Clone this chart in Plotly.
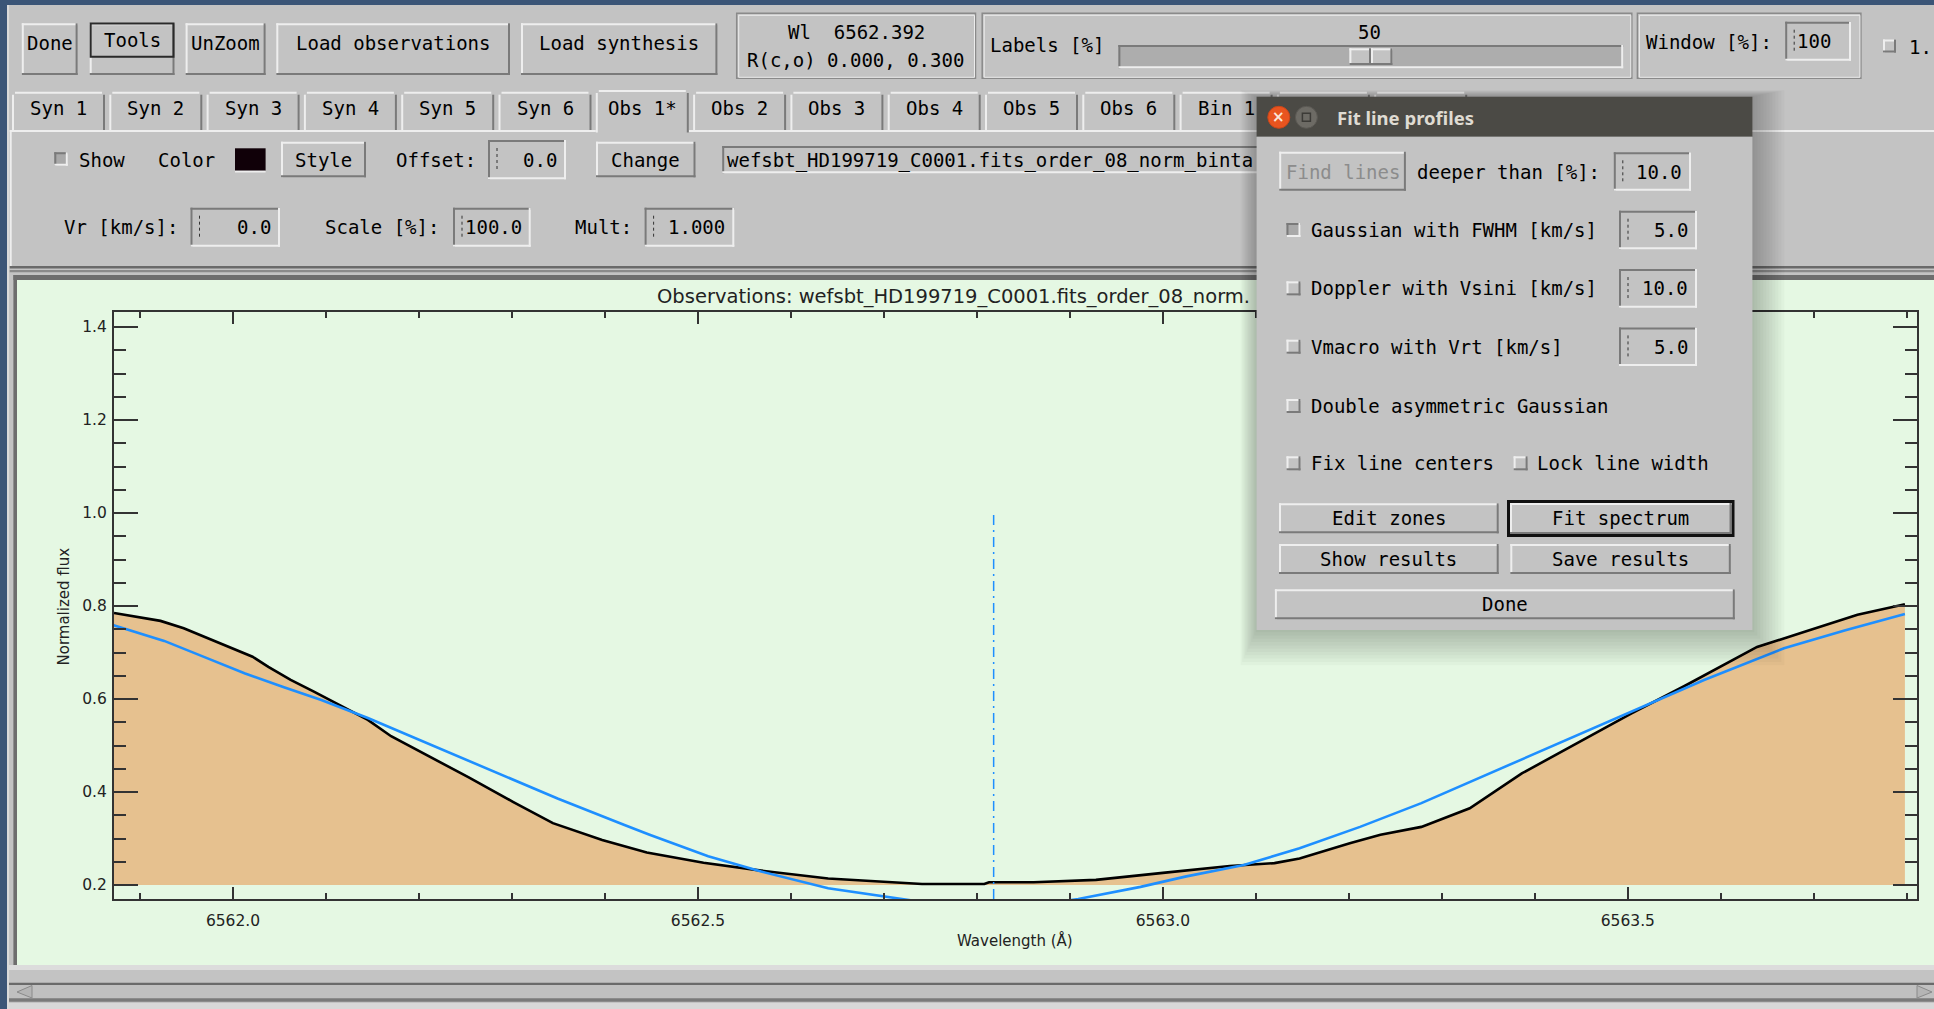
import plotly.graph_objects as go

# ---------------- data ----------------
obs_wavelength = [6561.872, 6561.894, 6561.922, 6561.947, 6561.972, 6561.996, 6562.021, 6562.038,
                  6562.062, 6562.087, 6562.104, 6562.120, 6562.145, 6562.170, 6562.205, 6562.253,
                  6562.301, 6562.344, 6562.397, 6562.445, 6562.506, 6562.568, 6562.640, 6562.708,
                  6562.741, 6562.808, 6562.813, 6562.861, 6562.928, 6563.000, 6563.072, 6563.120,
                  6563.147, 6563.201, 6563.234, 6563.278, 6563.330, 6563.386, 6563.452, 6563.504,
                  6563.561, 6563.639, 6563.691, 6563.747, 6563.798]
obs_flux = [0.785, 0.777, 0.768, 0.752, 0.731, 0.712, 0.691, 0.669,
            0.641, 0.616, 0.598, 0.580, 0.555, 0.520, 0.483, 0.432,
            0.379, 0.333, 0.297, 0.270, 0.248, 0.231, 0.214, 0.207,
            0.202, 0.202, 0.206, 0.206, 0.211, 0.226, 0.241, 0.247,
            0.257, 0.290, 0.308, 0.325, 0.365, 0.440, 0.512, 0.569,
            0.628, 0.712, 0.745, 0.781, 0.804]
fit_wavelength = [6561.871, 6561.926, 6561.972, 6562.013, 6562.054, 6562.095, 6562.145, 6562.205,
                  6562.277, 6562.349, 6562.421, 6562.448, 6562.511, 6562.568, 6562.640, 6562.717,
                  6562.760, 6562.818, 6562.870, 6562.909, 6562.976, 6563.024, 6563.087, 6563.147,
                  6563.212, 6563.278, 6563.343, 6563.408, 6563.495, 6563.582, 6563.668, 6563.734,
                  6563.798]
fit_flux = [0.759, 0.725, 0.688, 0.655, 0.626, 0.598, 0.559, 0.508,
            0.447, 0.386, 0.329, 0.308, 0.262, 0.229, 0.193, 0.170,
            0.158, 0.152, 0.158, 0.170, 0.196, 0.218, 0.243, 0.279,
            0.325, 0.376, 0.433, 0.490, 0.565, 0.641, 0.709, 0.748,
            0.783]
fill_base = 0.2
line_center = 6562.818
line_marker_top = 1.0
x_range = [6561.872, 6563.811]
y_range = [0.1699, 1.4323]

plot_title = "Observations: wefsbt_HD199719_C0001.fits_order_08_norm."
x_title = "Wavelength (Å)"
y_title = "Normalized flux"

toolbar_buttons = ["Done", "Tools", "UnZoom", "Load observations", "Load synthesis"]
info_lines = ["Wl\u00a0\u00a06562.392", "R(c,o) 0.000, 0.300"]
labels_value = "50"
window_value = "100"
tab_labels = ["Syn 1", "Syn 2", "Syn 3", "Syn 4", "Syn 5", "Syn 6",
              "Obs 1*", "Obs 2", "Obs 3", "Obs 4", "Obs 5", "Obs 6", "Bin 1"]
file_entry = "wefsbt_HD199719_C0001.fits_order_08_norm_binta"
offset_value, vr_value, scale_value, mult_value = "0.0", "0.0", "100.0", "1.000"
popup_title = "Fit line profiles"
popup_options = ["Gaussian with FWHM [km/s]", "Doppler with Vsini [km/s]", "Vmacro with Vrt [km/s]"]
popup_option_values = ["5.0", "10.0", "5.0"]
deeper_value = "10.0"

# ---------------- geometry helpers ----------------
W, H = 1934, 1009
ML, MR, MT, MB = 114, 17, 312, 110
PW = W - ML - MR
PH = H - MT - MB

GRAY = '#c3c3c3'
LIGHT = '#eeeeee'
DARK = '#7a7a7a'
CANVAS = '#e5f8e3'
GUI_FONT = 'DejaVu Sans Mono'
PLOT_FONT = 'DejaVu Sans'
AXIS = '#333333'

shapes = []
annotations = []


def X(px):
    return (px - ML) / PW


def Y(py):
    return (H - MB - py) / PH


def rect(x0, y0, x1, y1, fill, layer='below', opacity=1.0):
    shapes.append(dict(type='rect', xref='paper', yref='paper', x0=X(x0), x1=X(x1), y0=Y(y1), y1=Y(y0),
                       fillcolor=fill, opacity=opacity, layer=layer, line=dict(width=0)))


def outline(x0, y0, x1, y1, color, width, layer='below'):
    shapes.append(dict(type='rect', xref='paper', yref='paper', x0=X(x0), x1=X(x1), y0=Y(y1), y1=Y(y0),
                       fillcolor='rgba(0,0,0,0)', layer=layer, line=dict(width=width, color=color)))


def seg(x0, y0, x1, y1, color, width=1, dash='solid', layer='below'):
    shapes.append(dict(type='line', xref='paper', yref='paper', x0=X(x0), x1=X(x1), y0=Y(y0), y1=Y(y1),
                       layer=layer, line=dict(width=width, color=color, dash=dash)))


def bevel(x0, y0, x1, y1, raised=True, w=2, layer='below', fill=GRAY):
    hi, lo = (LIGHT, DARK) if raised else (DARK, LIGHT)
    rect(x0, y0, x1, y1, fill, layer)
    rect(x0, y0, x1, y0 + w, hi, layer)
    rect(x0, y0, x0 + w, y1, hi, layer)
    rect(x0, y1 - w, x1, y1, lo, layer)
    rect(x1 - w, y0, x1, y1, lo, layer)


def etched(x0, y0, x1, y1, layer='below'):
    outline(x0, y0, x1, y1, '#8a8a8a', 1.5, layer)
    outline(x0 + 2, y0 + 2, x1 - 1, y1 - 1, '#ececec', 1, layer)


def text(x, y, s, size=19, color='#000000', anchor='center', family=GUI_FONT, angle=0, weight=None):
    f = dict(family=family, size=size, color=color)
    if weight:
        f['weight'] = weight
    annotations.append(dict(xref='paper', yref='paper', x=X(x), y=Y(y), text=s, showarrow=False,
                            xanchor=anchor, yanchor='middle', font=f, textangle=angle, borderpad=0))


def entry(x0, y0, x1, y1, value, right=True, layer='below'):
    bevel(x0, y0, x1, y1, raised=False, w=2, layer=layer)
    cx = x0 + 9
    seg(cx, y0 + 8, cx, y1 - 8, '#333333', 1, 'dot', layer)
    if right:
        text(x1 - 8, (y0 + y1) / 2, value, anchor='right')
    else:
        text(x0 + 11, (y0 + y1) / 2, value, anchor='left')


def checkbox(x0, yc, size=14, checked=False, layer='below'):
    bevel(x0, yc - size / 2, x0 + size, yc + size / 2, raised=not checked, w=2, layer=layer,
          fill='#a9a9a9' if checked else GRAY)


# ---------------- window background ----------------
rect(0, 0, W, 5, '#3b5577')
rect(0, 0, 7, H, '#3b5577')
rect(7, 5, 9, H, '#dadada')

# toolbar buttons
btn_x = [(21.8, 77.6), (89.7, 174.5), (185.6, 265.6), (276.3, 510.0), (521.0, 717.4)]
for (bx0, bx1), name in zip(btn_x, toolbar_buttons):
    bevel(bx0, 23.3, bx1, 75.0)
    if name == "Tools":
        outline(bx0 + 1, 23.5, bx1 - 1, 56.7, '#2a2a2a', 2)
        text((bx0 + bx1) / 2, 40.0, name)
    else:
        text((bx0 + bx1) / 2, 43.3, name)

# info box
etched(736.7, 13.3, 975.5, 78.3)
text(856.0, 31.7, info_lines[0])
text(855.5, 60.0, info_lines[1])

# labels slider box
etched(982.2, 13.3, 1631.8, 78.3)
text(1047.0, 45.0, "Labels [%]")
text(1369.5, 31.7, labels_value)
bevel(1118.4, 45.0, 1623.2, 68.3, raised=False, w=2, fill='#adadad')
bevel(1349.4, 48.3, 1371.0, 65.0, raised=True, w=2)
bevel(1371.0, 48.3, 1392.4, 65.0, raised=True, w=2)

# window box
etched(1637.4, 13.3, 1860.9, 78.3)
text(1644.7, 41.7, "Window [%]:", anchor='left')
entry(1785.2, 21.7, 1851.0, 60.7, window_value, right=False)
checkbox(1883.0, 46.0, 13)
text(1908.0, 46.7, "1.", anchor='left')

# panel under tabs
rect(9.7, 130.0, W, 132.0, LIGHT)
rect(9.7, 130.0, 11.7, 266.0, LIGHT)
rect(9.7, 266.0, W, 268.5, '#6a6a6a')
rect(9.7, 270.0, W, 272.3, '#8a8a8a')

# tabs
tab_step = 97.3
for i in range(15):
    tx0 = 12.0 + i * tab_step
    tx1 = tx0 + 93.0
    sel = (i == 6)
    ty0 = 90.0 if sel else 91.7
    ty1 = 132.5 if sel else 130.0
    rect(tx0, ty0, tx1, ty1, GRAY)
    rect(tx0 + 3, ty0, tx1 - 3, ty0 + 2, LIGHT)
    rect(tx0, ty0 + 3, tx0 + 2, ty1, LIGHT)
    rect(tx1 - 2, ty0 + 3, tx1, ty1, DARK)
    if i < len(tab_labels):
        text((tx0 + tx1) / 2, 108.3, tab_labels[i])

# row 1
checkbox(54.3, 159.0, 13.5, checked=True)
text(77.6, 160.0, "Show", anchor='left')
text(186.6, 160.0, "Color")
rect(235.0, 148.3, 265.6, 170.7, '#100008')
rect(235.0, 170.7, 265.6, 172.5, LIGHT)
bevel(281.0, 141.7, 366.0, 177.3)
text(323.5, 160.0, "Style")
text(436.0, 160.0, "Offset:")
entry(488.0, 140.0, 566.0, 179.3, offset_value)
bevel(596.0, 141.7, 695.5, 177.3)
text(645.8, 160.0, "Change")
bevel(722.2, 146.0, 1700.0, 173.3, raised=False, w=2)
text(726.0, 160.0, file_entry, anchor='left')

# row 2
text(120.7, 226.7, "Vr [km/s]:")
entry(190.5, 207.7, 280.0, 246.7, vr_value)
text(382.4, 226.7, "Scale [%]:")
entry(453.0, 207.7, 530.7, 246.7, scale_value, right=False)
text(603.4, 226.7, "Mult:")
entry(644.6, 207.7, 734.3, 246.7, mult_value)

# plot canvas
rect(13.4, 275.0, W, 280.0, '#6e6e6e')
rect(13.4, 275.0, 17.0, 965.0, '#6e6e6e')
rect(17.0, 280.0, W, 965.0, CANVAS)
rect(9.0, 965.0, W, 970.0, '#dcdcdc')
# scrollbar
rect(9.0, 982.7, W, 985.0, '#6a6a6a')
rect(9.0, 985.0, W, 998.3, '#c0c0c0')
rect(9.0, 998.3, W, 1001.7, '#7a7a7a')
rect(9.0, 1003.0, W, H, '#d8d8d8')
for pth in [f"M {X(17)},{Y(992)} L {X(32)},{Y(985.5)} L {X(32)},{Y(998)} Z",
            f"M {X(1932)},{Y(992)} L {X(1917)},{Y(985.5)} L {X(1917)},{Y(998)} Z"]:
    shapes.append(dict(type='path', xref='paper', yref='paper', path=pth, fillcolor='#b5b5b5',
                       line=dict(color='#8a8a8a', width=1), layer='below'))

# plot texts
text(656.0, 296.0, plot_title, size=19.5, color='#222222', anchor='left', family=PLOT_FONT)
text(1015.0, 940.0, x_title, size=15, color='#222222', family=PLOT_FONT)
text(63.5, 607.0, y_title, size=15, color='#222222', family=PLOT_FONT, angle=-90)

# ---------------- popup dialog ----------------
A = 'above'
for d in range(2, 34, 3):
    rect(1256.6 - d * 0.5, 96.7 - d * 0.2, 1752.4 + d, 630.0 + d * 1.1, '#000000', A, opacity=0.022)
rect(1256.6, 96.7, 1752.4, 136.7, '#4b4a45', A)
shapes.append(dict(type='circle', xref='paper', yref='paper', x0=X(1267.8), x1=X(1289.8), y0=Y(128.3), y1=Y(106.3),
                   fillcolor='#e9541f', line=dict(color='#c8461a', width=1), layer=A))
shapes.append(dict(type='circle', xref='paper', yref='paper', x0=X(1295.4), x1=X(1317.4), y0=Y(128.3), y1=Y(106.3),
                   fillcolor='#6d6b65', line=dict(color='#5a5853', width=1), layer=A))
outline(1302.4, 113.3, 1310.4, 121.3, '#3c3b37', 1.5, A)
text(1278.8, 117.0, "×", size=15, color='#fbe4da', family='DejaVu Sans', weight='bold')
text(1335.5, 117.3, popup_title, size=18.5, color='#dfdbd2', anchor='left', family='Noto Sans', weight='bold')
rect(1256.6, 136.7, 1752.4, 630.0, GRAY, A)

bevel(1279.2, 151.7, 1405.9, 190.7, layer=A)
text(1342.5, 171.7, "Find lines", color='#8c8c8c')
text(1415.8, 171.7, "deeper than [%]:", anchor='left')
entry(1613.8, 152.3, 1691.0, 190.7, deeper_value, layer=A)

for j, (opt, val) in enumerate(zip(popup_options, popup_option_values)):
    yc = 230.0 + j * 58.35
    checkbox(1286.5, yc, 14, checked=(j == 0), layer=A)
    text(1309.7, yc, opt, anchor='left')
    entry(1619.0, yc - 19.3, 1697.0, yc + 19.3, val, layer=A)

checkbox(1286.5, 406.0, 14, layer=A)
text(1309.7, 406.0, "Double asymmetric Gaussian", anchor='left')
checkbox(1286.5, 463.3, 14, layer=A)
text(1309.7, 463.3, "Fix line centers", anchor='left')
checkbox(1513.6, 463.3, 14, layer=A)
text(1535.8, 463.3, "Lock line width", anchor='left')

bevel(1279.0, 503.3, 1498.7, 533.3, layer=A)
text(1388.8, 518.3, "Edit zones")
rect(1507.0, 500.0, 1734.5, 537.0, '#111111', A)
bevel(1510.0, 503.0, 1731.5, 534.0, layer=A)
text(1620.8, 518.3, "Fit spectrum")
bevel(1279.0, 544.0, 1498.7, 574.0, layer=A)
text(1388.8, 559.0, "Show results")
bevel(1510.3, 544.0, 1730.8, 574.0, layer=A)
text(1620.5, 559.0, "Save results")
bevel(1274.9, 589.3, 1734.8, 619.3, layer=A)
text(1504.8, 604.3, "Done")

# ---------------- traces ----------------
fig = go.Figure()
fig.add_trace(go.Scatter(x=obs_wavelength, y=[fill_base] * len(obs_wavelength), mode='lines',
                         line=dict(width=0, color='rgba(0,0,0,0)'), hoverinfo='skip', showlegend=False))
fig.add_trace(go.Scatter(x=obs_wavelength, y=obs_flux, mode='lines', fill='tonexty',
                         fillcolor='#e6c18f', line=dict(color='#000000', width=2.6), showlegend=False))
fig.add_trace(go.Scatter(x=fit_wavelength, y=fit_flux, mode='lines',
                         line=dict(color='#1e8fff', width=2.6), showlegend=False))
fig.add_trace(go.Scatter(x=[line_center, line_center], y=[y_range[0], line_marker_top], mode='lines',
                         line=dict(color='#1e8fff', width=1.5, dash='10px,5px,2px,5px'), showlegend=False))

fig.update_layout(
    width=W, height=H, autosize=False,
    margin=dict(l=ML, r=MR, t=MT, b=MB, pad=0),
    paper_bgcolor=GRAY, plot_bgcolor=CANVAS,
    shapes=shapes, annotations=annotations,
    showlegend=False,
    xaxis=dict(range=x_range, showgrid=False, zeroline=False, showline=True, linecolor=AXIS, linewidth=2,
               mirror='ticks', ticks='inside', ticklen=12, tickwidth=2, tickcolor=AXIS,
               dtick=0.5, tick0=6562.0, tickformat='.1f', ticklabelstandoff=6,
               tickfont=dict(family=PLOT_FONT, size=15.5, color='#222222'),
               minor=dict(dtick=0.1, tick0=6562.0, ticks='inside', ticklen=6, tickwidth=2, tickcolor=AXIS)),
    yaxis=dict(range=y_range, showgrid=False, zeroline=False, showline=True, linecolor=AXIS, linewidth=2,
               mirror='ticks', ticks='inside', ticklen=24, tickwidth=2, tickcolor=AXIS,
               dtick=0.2, tick0=0.2, tickformat='.1f', ticklabelstandoff=2,
               tickfont=dict(family=PLOT_FONT, size=15.5, color='#222222'),
               minor=dict(dtick=0.05, tick0=0.2, ticks='inside', ticklen=12, tickwidth=2, tickcolor=AXIS)),
)

fig.write_html("out.html", config={'displayModeBar': False})
